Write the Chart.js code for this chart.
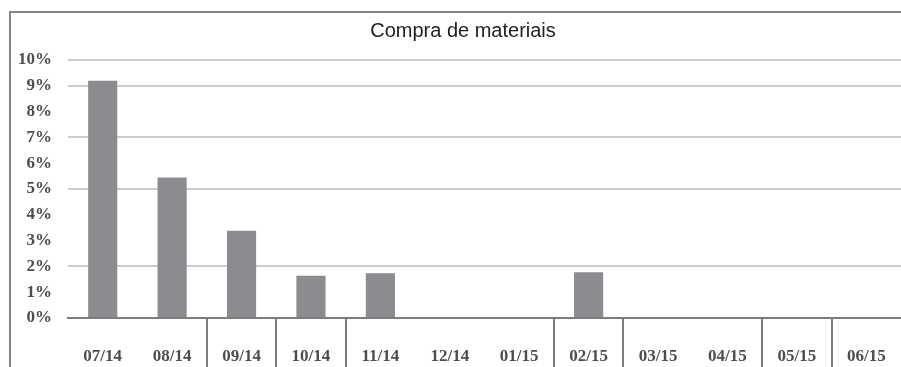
<!DOCTYPE html>
<html>
<head>
<meta charset="utf-8">
<script src="https://cdn.jsdelivr.net/npm/chart.js@4/dist/chart.umd.min.js"></script>
<style>
  html, body { margin: 0; padding: 0; background: #ffffff; }
  #wrap { width: 901px; height: 367px; position: relative; }
</style>
</head>
<body>
<div id="wrap"><canvas id="c"></canvas></div>
<script>
// Monthly share of material purchases (%)
const months = ['07/14', '08/14', '09/14', '10/14', '11/14', '12/14', '01/15', '02/15', '03/15', '04/15', '05/15', '06/15'];
const purchaseShare = [9.2, 5.45, 3.38, 1.64, 1.73, 0, 0, 1.77, 0, 0, 0, 0];
const percentTicks = [0, 1, 2, 3, 4, 5, 6, 7, 8, 9, 10];
const visibleGridLevels = [2, 5, 7, 9, 10];
// category boundaries (index of the category to the right) that carry a divider below the axis
const dividerBefore = [2, 3, 4, 7, 8, 10, 11];

// outer frame (left and top edges) and a slightly right-shifted title box
const frame = {
  id: 'frame',
  afterLayout(chart) {
    if (chart.titleBlock) chart.titleBlock.left = 25;
  },
  beforeDraw(chart) {
    const c = chart.ctx;
    c.save();
    c.strokeStyle = '#858585';
    c.lineWidth = 2;
    c.beginPath();
    c.moveTo(10, chart.height);
    c.lineTo(10, 12);
    c.lineTo(chart.width, 12);
    c.stroke();
    c.restore();
  }
};

const labelFont = { family: '"Liberation Serif", "Times New Roman", serif', size: 17, weight: 'bold' };

new Chart(document.getElementById('c'), {
  type: 'bar',
  data: {
    labels: months,
    datasets: [{
      label: 'Compra de materiais',
      data: purchaseShare,
      backgroundColor: '#8b8c90',
      borderWidth: 0,
      barPercentage: 0.42,
      categoryPercentage: 1
    }]
  },
  options: {
    responsive: true,
    maintainAspectRatio: false,
    animation: false,
    layout: { padding: { left: 10, right: 0, top: 0, bottom: 0 } },
    plugins: {
      legend: { display: false },
      tooltip: { enabled: false },
      title: {
        display: true,
        text: 'Compra de materiais',
        color: '#222222',
        font: { family: '"Liberation Sans", Arial, sans-serif', size: 20, weight: 'normal', lineHeight: 1.2 },
        padding: { top: 19, bottom: 17 }
      }
    },
    scales: {
      x: {
        grid: {
          offset: true,
          drawOnChartArea: false,
          drawTicks: true,
          tickLength: 49,
          lineWidth: 2,
          color: (ctx) => dividerBefore.includes(ctx.index) ? '#7d7d7d' : 'rgba(0,0,0,0)'
        },
        border: { display: true, color: '#7d7d7d', width: 2 },
        ticks: {
          color: '#4d4d4d',
          font: labelFont,
          padding: -21,
          maxRotation: 0,
          autoSkip: false
        },
        afterFit(scale) { scale.height = 49; }
      },
      y: {
        min: 0,
        max: 10,
        afterBuildTicks(scale) { scale.ticks = percentTicks.map(v => ({ value: v })); },
        grid: {
          drawTicks: false,
          lineWidth: 2,
          color: (ctx) => visibleGridLevels.includes(ctx.tick && ctx.tick.value) ? '#cdcdcd' : 'rgba(0,0,0,0)'
        },
        border: { display: false },
        ticks: {
          color: '#4d4d4d',
          font: labelFont,
          padding: 16,
          callback: (v) => v + '%'
        },
        afterFit(scale) { scale.width = 58; }
      }
    }
  },
  plugins: [frame]
});
</script>
</body>
</html>
